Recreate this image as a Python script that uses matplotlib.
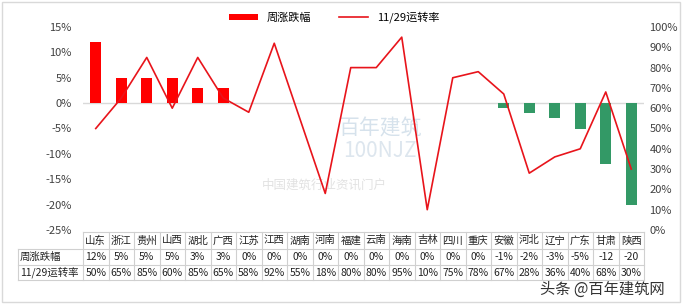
import matplotlib
matplotlib.use("Agg")
import matplotlib.pyplot as plt
import matplotlib.transforms as mtransforms
from matplotlib.patches import Patch, Rectangle
from matplotlib.lines import Line2D
import numpy as np

plt.rcParams['font.family'] = ['Noto Sans CJK SC', 'DejaVu Sans']

# data
provinces = ['山东', '浙江', '贵州', '山西', '湖北', '广西', '江苏', '江西', '湖南', '河南', '福建',
             '云南', '海南', '吉林', '四川', '重庆', '安徽', '河北', '辽宁', '广东', '甘肃', '陕西']
week_change = [12, 5, 5, 5, 3, 3, 0, 0, 0, 0, 0, 0, 0, 0, 0, 0, -1, -2, -3, -5, -12, -20]
week_change_txt = ['12%', '5%', '5%', '5%', '3%', '3%', '0%', '0%', '0%', '0%', '0%', '0%', '0%',
                   '0%', '0%', '0%', '-1%', '-2%', '-3%', '-5%', '-12', '-20']
run_rate = [50, 65, 85, 60, 85, 65, 58, 92, 55, 18, 80, 80, 95, 10, 75, 78, 67, 28, 36, 40, 68, 30]
row_names = ['周涨跌幅', '11/29运转率']

W, H = 682, 304
fig = plt.figure(figsize=(W / 100, H / 100), dpi=100)
fig.patch.set_facecolor('white')
fig.add_artist(Rectangle((2 / W, 2 / H), 1 - 4 / W, 1 - 4 / H, transform=fig.transFigure,
                         fill=False, edgecolor='#d9d9d9', lw=1))

left, right, top, bot = 83, 644, 27, 230
ax = fig.add_axes([left / W, 1 - bot / H, (right - left) / W, (bot - top) / H])
x = np.arange(len(provinces))

red = '#ff0000'
green = '#339966'
colors = [red if v > 0 else green for v in week_change]
ax.bar(x, week_change, width=0.42, color=colors, zorder=2)
ax.axhline(0, color='#d9d9d9', lw=1, zorder=1)
ax.set_xlim(-0.5, len(provinces) - 0.5)
ax.set_ylim(-25, 15)
ax.set_yticks(range(-25, 16, 5))
ax.set_yticklabels([f'{v}%' for v in range(-25, 16, 5)], fontsize=8, color='#404040')
ax.set_xticks([])
ax.tick_params(axis='y', length=0, pad=8)
for s in ax.spines.values():
    s.set_visible(False)

ax2 = ax.twinx()
ax2.plot(x, run_rate, color='#e8141b', lw=1.2, zorder=3)
ax2.set_ylim(0, 100)
ax2.set_yticks(range(0, 101, 10))
ax2.set_yticklabels([f'{v}%' for v in range(0, 101, 10)], fontsize=8, color='#404040')
ax2.tick_params(axis='y', length=0, pad=4)
for s in ax2.spines.values():
    s.set_visible(False)

# faint watermark in the plot area
ax.text(0.53, 0.50, '百年建筑', transform=ax.transAxes, fontsize=15, color='#d6e2ec',
        ha='center', va='center', zorder=0)
ax.text(0.53, 0.39, '100NJZ', transform=ax.transAxes, fontsize=15, color='#dde6ee',
        ha='center', va='center', zorder=0)
ax.text(0.43, 0.22, '中国建筑行业资讯门户', transform=ax.transAxes, fontsize=9, color='#e2e2e2',
        ha='center', va='center', zorder=0)

# data table under the plot
tr = mtransforms.blended_transform_factory(ax.transData, fig.transFigure)
rows_px = [232, 249, 265, 280]
ry = [1 - p / H for p in rows_px]
grid_c = '#d0d0d0'
x0, x1 = -0.5, len(provinces) - 0.5
ax.plot([x0, x1], [ry[0], ry[0]], transform=tr, color=grid_c, lw=0.8, clip_on=False)
for yy in ry[1:]:
    fig.add_artist(Line2D([18 / W, right / W], [yy, yy], color=grid_c, lw=0.8))
fig.add_artist(Line2D([18 / W, 18 / W], [ry[1], ry[3]], color=grid_c, lw=0.8))
for i in range(len(provinces) + 1):
    ax.plot([i - 0.5, i - 0.5], [ry[0], ry[3]], transform=tr, color=grid_c, lw=0.8, clip_on=False)

mid = [(ry[k] + ry[k + 1]) / 2 for k in range(3)]
for i, p in enumerate(provinces):
    ax.text(i, mid[0], p, transform=tr, ha='center', va='center', fontsize=7.5, color='#222222')
    ax.text(i, mid[1], week_change_txt[i], transform=tr, ha='center', va='center', fontsize=7.5,
            color='#222222')
    ax.text(i, mid[2], f'{run_rate[i]}%', transform=tr, ha='center', va='center', fontsize=7.5,
            color='#222222')
for k, name in enumerate(row_names):
    fig.text(20 / W, mid[k + 1], name, ha='left', va='center', fontsize=7.5, color='#222222')

# legend
handles = [Patch(facecolor=red, edgecolor='none'), Line2D([0], [0], color='#e8141b', lw=1.2)]
fig.legend(handles, row_names, loc='upper center', bbox_to_anchor=(0.49, 0.995), ncol=2,
           frameon=False, fontsize=8, handlelength=2.6, handleheight=0.5, columnspacing=2.5)

fig.text(0.975, 0.05, '头条 @百年建筑网', ha='right', va='center', fontsize=11, color='#333333')

fig.savefig('out.png', dpi=100)
